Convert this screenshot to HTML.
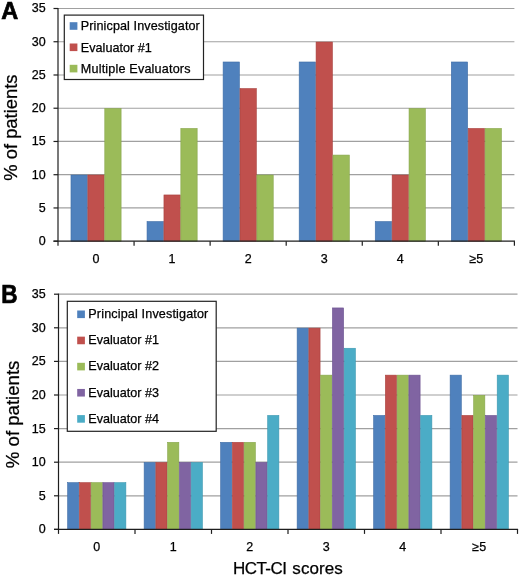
<!DOCTYPE html>
<html><head><meta charset="utf-8">
<style>
html,body{margin:0;padding:0;background:#fff;}
body{width:520px;height:577px;overflow:hidden;position:relative;}
svg{position:absolute;left:0;top:0;will-change:transform;}
text{font-family:"Liberation Sans",sans-serif;fill:#000;stroke:#000;stroke-width:0.25px;}
</style></head><body>
<svg width="520" height="577" viewBox="0 0 520 577">
<rect width="520" height="577" fill="#fff"/>
<text transform="translate(1.3,18.7) scale(1,1.03)" font-size="23.5" font-weight="bold" style="stroke-width:0.7px">A</text>
<text transform="translate(1.3,303.3) scale(0.94,1.04)" font-size="24" font-weight="bold" style="stroke-width:0.7px">B</text>
<text transform="translate(16.6,127.6) rotate(-90)" text-anchor="middle" font-size="18.35">% of patients</text>
<text transform="translate(18.7,414.4) rotate(-90)" text-anchor="middle" font-size="18.6">% of patients</text>
<text x="232.9" y="574.4" font-size="17" textLength="54">HCT-CI</text><text x="292.3" y="574.4" font-size="17" textLength="50.5">scores</text>
<line x1="58.00" y1="207.96" x2="514.40" y2="207.96" stroke="#a0a0a0" stroke-width="1.2"/>
<line x1="58.00" y1="174.71" x2="514.40" y2="174.71" stroke="#a0a0a0" stroke-width="1.2"/>
<line x1="58.00" y1="141.47" x2="514.40" y2="141.47" stroke="#a0a0a0" stroke-width="1.2"/>
<line x1="58.00" y1="108.23" x2="514.40" y2="108.23" stroke="#a0a0a0" stroke-width="1.2"/>
<line x1="58.00" y1="74.99" x2="514.40" y2="74.99" stroke="#a0a0a0" stroke-width="1.2"/>
<line x1="58.00" y1="41.74" x2="514.40" y2="41.74" stroke="#a0a0a0" stroke-width="1.2"/>
<line x1="58.00" y1="8.50" x2="514.40" y2="8.50" stroke="#a0a0a0" stroke-width="1.2"/>
<rect x="70.98" y="175.01" width="16.30" height="66.19" fill="#4F81BD" stroke="#3F6DA6" stroke-width="0.6"/>
<rect x="87.88" y="175.01" width="16.30" height="66.19" fill="#C0504D" stroke="#A8403D" stroke-width="0.6"/>
<rect x="104.79" y="108.53" width="16.30" height="132.67" fill="#9BBB59" stroke="#86A54A" stroke-width="0.6"/>
<rect x="147.04" y="221.55" width="16.30" height="19.65" fill="#4F81BD" stroke="#3F6DA6" stroke-width="0.6"/>
<rect x="163.95" y="194.96" width="16.30" height="46.24" fill="#C0504D" stroke="#A8403D" stroke-width="0.6"/>
<rect x="180.85" y="128.47" width="16.30" height="112.73" fill="#9BBB59" stroke="#86A54A" stroke-width="0.6"/>
<rect x="223.11" y="61.99" width="16.30" height="179.21" fill="#4F81BD" stroke="#3F6DA6" stroke-width="0.6"/>
<rect x="240.01" y="88.58" width="16.30" height="152.62" fill="#C0504D" stroke="#A8403D" stroke-width="0.6"/>
<rect x="256.92" y="175.01" width="16.30" height="66.19" fill="#9BBB59" stroke="#86A54A" stroke-width="0.6"/>
<rect x="299.18" y="61.99" width="16.30" height="179.21" fill="#4F81BD" stroke="#3F6DA6" stroke-width="0.6"/>
<rect x="316.08" y="42.04" width="16.30" height="199.16" fill="#C0504D" stroke="#A8403D" stroke-width="0.6"/>
<rect x="332.99" y="155.07" width="16.30" height="86.13" fill="#9BBB59" stroke="#86A54A" stroke-width="0.6"/>
<rect x="375.24" y="221.55" width="16.30" height="19.65" fill="#4F81BD" stroke="#3F6DA6" stroke-width="0.6"/>
<rect x="392.15" y="175.01" width="16.30" height="66.19" fill="#C0504D" stroke="#A8403D" stroke-width="0.6"/>
<rect x="409.05" y="108.53" width="16.30" height="132.67" fill="#9BBB59" stroke="#86A54A" stroke-width="0.6"/>
<rect x="451.31" y="61.99" width="16.30" height="179.21" fill="#4F81BD" stroke="#3F6DA6" stroke-width="0.6"/>
<rect x="468.21" y="128.47" width="16.30" height="112.73" fill="#C0504D" stroke="#A8403D" stroke-width="0.6"/>
<rect x="485.12" y="128.47" width="16.30" height="112.73" fill="#9BBB59" stroke="#86A54A" stroke-width="0.6"/>
<line x1="53.50" y1="241.20" x2="58.00" y2="241.20" stroke="#1e1e1e" stroke-width="1.2"/>
<text x="45.6" y="245.17" text-anchor="end" font-size="12.5">0</text>
<line x1="53.50" y1="207.96" x2="58.00" y2="207.96" stroke="#1e1e1e" stroke-width="1.2"/>
<text x="45.6" y="211.93" text-anchor="end" font-size="12.5">5</text>
<line x1="53.50" y1="174.71" x2="58.00" y2="174.71" stroke="#1e1e1e" stroke-width="1.2"/>
<text x="45.6" y="178.69" text-anchor="end" font-size="12.5">10</text>
<line x1="53.50" y1="141.47" x2="58.00" y2="141.47" stroke="#1e1e1e" stroke-width="1.2"/>
<text x="45.6" y="145.45" text-anchor="end" font-size="12.5">15</text>
<line x1="53.50" y1="108.23" x2="58.00" y2="108.23" stroke="#1e1e1e" stroke-width="1.2"/>
<text x="45.6" y="112.20" text-anchor="end" font-size="12.5">20</text>
<line x1="53.50" y1="74.99" x2="58.00" y2="74.99" stroke="#1e1e1e" stroke-width="1.2"/>
<text x="45.6" y="78.96" text-anchor="end" font-size="12.5">25</text>
<line x1="53.50" y1="41.74" x2="58.00" y2="41.74" stroke="#1e1e1e" stroke-width="1.2"/>
<text x="45.6" y="45.72" text-anchor="end" font-size="12.5">30</text>
<line x1="53.50" y1="8.50" x2="58.00" y2="8.50" stroke="#1e1e1e" stroke-width="1.2"/>
<text x="45.6" y="12.47" text-anchor="end" font-size="12.5">35</text>
<line x1="58.00" y1="7.90" x2="58.00" y2="245.70" stroke="#1e1e1e" stroke-width="1.2"/>
<line x1="53.50" y1="241.20" x2="515.00" y2="241.20" stroke="#1e1e1e" stroke-width="1.2"/>
<line x1="134.07" y1="241.20" x2="134.07" y2="245.70" stroke="#1e1e1e" stroke-width="1.2"/>
<line x1="210.13" y1="241.20" x2="210.13" y2="245.70" stroke="#1e1e1e" stroke-width="1.2"/>
<line x1="286.20" y1="241.20" x2="286.20" y2="245.70" stroke="#1e1e1e" stroke-width="1.2"/>
<line x1="362.27" y1="241.20" x2="362.27" y2="245.70" stroke="#1e1e1e" stroke-width="1.2"/>
<line x1="438.33" y1="241.20" x2="438.33" y2="245.70" stroke="#1e1e1e" stroke-width="1.2"/>
<line x1="514.40" y1="241.20" x2="514.40" y2="245.70" stroke="#1e1e1e" stroke-width="1.2"/>
<text x="96.03" y="263.20" text-anchor="middle" font-size="12.5">0</text>
<text x="172.10" y="263.20" text-anchor="middle" font-size="12.5">1</text>
<text x="248.17" y="263.20" text-anchor="middle" font-size="12.5">2</text>
<text x="324.23" y="263.20" text-anchor="middle" font-size="12.5">3</text>
<text x="400.30" y="263.20" text-anchor="middle" font-size="12.5">4</text>
<text x="476.37" y="263.20" text-anchor="middle" font-size="12.5">≥5</text>
<rect x="64.30" y="15.10" width="139.20" height="64.40" fill="#fff" stroke="#222" stroke-width="1.2"/>
<rect x="69.70" y="22.20" width="7.7" height="7.6" fill="#4F81BD"/>
<text x="80.80" y="30.20" font-size="12.6" textLength="119">Prinicpal Investigator</text>
<rect x="69.70" y="43.50" width="7.7" height="7.6" fill="#C0504D"/>
<text x="80.80" y="51.50" font-size="12.6" textLength="71">Evaluator #1</text>
<rect x="69.70" y="64.80" width="7.7" height="7.6" fill="#9BBB59"/>
<text x="80.80" y="72.80" font-size="12.6" textLength="109.7">Multiple Evaluators</text>
<line x1="58.50" y1="495.80" x2="517.50" y2="495.80" stroke="#a0a0a0" stroke-width="1.2"/>
<line x1="58.50" y1="462.20" x2="517.50" y2="462.20" stroke="#a0a0a0" stroke-width="1.2"/>
<line x1="58.50" y1="428.60" x2="517.50" y2="428.60" stroke="#a0a0a0" stroke-width="1.2"/>
<line x1="58.50" y1="395.00" x2="517.50" y2="395.00" stroke="#a0a0a0" stroke-width="1.2"/>
<line x1="58.50" y1="361.40" x2="517.50" y2="361.40" stroke="#a0a0a0" stroke-width="1.2"/>
<line x1="58.50" y1="327.80" x2="517.50" y2="327.80" stroke="#a0a0a0" stroke-width="1.2"/>
<line x1="58.50" y1="294.20" x2="517.50" y2="294.20" stroke="#a0a0a0" stroke-width="1.2"/>
<rect x="67.63" y="482.66" width="11.17" height="46.74" fill="#4F81BD" stroke="#3F6DA6" stroke-width="0.6"/>
<rect x="79.40" y="482.66" width="11.17" height="46.74" fill="#C0504D" stroke="#A8403D" stroke-width="0.6"/>
<rect x="91.17" y="482.66" width="11.17" height="46.74" fill="#9BBB59" stroke="#86A54A" stroke-width="0.6"/>
<rect x="102.93" y="482.66" width="11.17" height="46.74" fill="#8064A2" stroke="#6B5190" stroke-width="0.6"/>
<rect x="114.70" y="482.66" width="11.17" height="46.74" fill="#4BACC6" stroke="#3B97B0" stroke-width="0.6"/>
<rect x="144.13" y="462.50" width="11.17" height="66.90" fill="#4F81BD" stroke="#3F6DA6" stroke-width="0.6"/>
<rect x="155.90" y="462.50" width="11.17" height="66.90" fill="#C0504D" stroke="#A8403D" stroke-width="0.6"/>
<rect x="167.67" y="442.34" width="11.17" height="87.06" fill="#9BBB59" stroke="#86A54A" stroke-width="0.6"/>
<rect x="179.43" y="462.50" width="11.17" height="66.90" fill="#8064A2" stroke="#6B5190" stroke-width="0.6"/>
<rect x="191.20" y="462.50" width="11.17" height="66.90" fill="#4BACC6" stroke="#3B97B0" stroke-width="0.6"/>
<rect x="220.63" y="442.34" width="11.17" height="87.06" fill="#4F81BD" stroke="#3F6DA6" stroke-width="0.6"/>
<rect x="232.40" y="442.34" width="11.17" height="87.06" fill="#C0504D" stroke="#A8403D" stroke-width="0.6"/>
<rect x="244.17" y="442.34" width="11.17" height="87.06" fill="#9BBB59" stroke="#86A54A" stroke-width="0.6"/>
<rect x="255.93" y="462.50" width="11.17" height="66.90" fill="#8064A2" stroke="#6B5190" stroke-width="0.6"/>
<rect x="267.70" y="415.46" width="11.17" height="113.94" fill="#4BACC6" stroke="#3B97B0" stroke-width="0.6"/>
<rect x="297.13" y="328.10" width="11.17" height="201.30" fill="#4F81BD" stroke="#3F6DA6" stroke-width="0.6"/>
<rect x="308.90" y="328.10" width="11.17" height="201.30" fill="#C0504D" stroke="#A8403D" stroke-width="0.6"/>
<rect x="320.67" y="375.14" width="11.17" height="154.26" fill="#9BBB59" stroke="#86A54A" stroke-width="0.6"/>
<rect x="332.43" y="307.94" width="11.17" height="221.46" fill="#8064A2" stroke="#6B5190" stroke-width="0.6"/>
<rect x="344.20" y="348.26" width="11.17" height="181.14" fill="#4BACC6" stroke="#3B97B0" stroke-width="0.6"/>
<rect x="373.63" y="415.46" width="11.17" height="113.94" fill="#4F81BD" stroke="#3F6DA6" stroke-width="0.6"/>
<rect x="385.40" y="375.14" width="11.17" height="154.26" fill="#C0504D" stroke="#A8403D" stroke-width="0.6"/>
<rect x="397.17" y="375.14" width="11.17" height="154.26" fill="#9BBB59" stroke="#86A54A" stroke-width="0.6"/>
<rect x="408.93" y="375.14" width="11.17" height="154.26" fill="#8064A2" stroke="#6B5190" stroke-width="0.6"/>
<rect x="420.70" y="415.46" width="11.17" height="113.94" fill="#4BACC6" stroke="#3B97B0" stroke-width="0.6"/>
<rect x="450.13" y="375.14" width="11.17" height="154.26" fill="#4F81BD" stroke="#3F6DA6" stroke-width="0.6"/>
<rect x="461.90" y="415.46" width="11.17" height="113.94" fill="#C0504D" stroke="#A8403D" stroke-width="0.6"/>
<rect x="473.67" y="395.30" width="11.17" height="134.10" fill="#9BBB59" stroke="#86A54A" stroke-width="0.6"/>
<rect x="485.43" y="415.46" width="11.17" height="113.94" fill="#8064A2" stroke="#6B5190" stroke-width="0.6"/>
<rect x="497.20" y="375.14" width="11.17" height="154.26" fill="#4BACC6" stroke="#3B97B0" stroke-width="0.6"/>
<line x1="54.00" y1="529.40" x2="58.50" y2="529.40" stroke="#1e1e1e" stroke-width="1.2"/>
<text x="45.6" y="533.38" text-anchor="end" font-size="12.5">0</text>
<line x1="54.00" y1="495.80" x2="58.50" y2="495.80" stroke="#1e1e1e" stroke-width="1.2"/>
<text x="45.6" y="499.77" text-anchor="end" font-size="12.5">5</text>
<line x1="54.00" y1="462.20" x2="58.50" y2="462.20" stroke="#1e1e1e" stroke-width="1.2"/>
<text x="45.6" y="466.18" text-anchor="end" font-size="12.5">10</text>
<line x1="54.00" y1="428.60" x2="58.50" y2="428.60" stroke="#1e1e1e" stroke-width="1.2"/>
<text x="45.6" y="432.57" text-anchor="end" font-size="12.5">15</text>
<line x1="54.00" y1="395.00" x2="58.50" y2="395.00" stroke="#1e1e1e" stroke-width="1.2"/>
<text x="45.6" y="398.98" text-anchor="end" font-size="12.5">20</text>
<line x1="54.00" y1="361.40" x2="58.50" y2="361.40" stroke="#1e1e1e" stroke-width="1.2"/>
<text x="45.6" y="365.38" text-anchor="end" font-size="12.5">25</text>
<line x1="54.00" y1="327.80" x2="58.50" y2="327.80" stroke="#1e1e1e" stroke-width="1.2"/>
<text x="45.6" y="331.77" text-anchor="end" font-size="12.5">30</text>
<line x1="54.00" y1="294.20" x2="58.50" y2="294.20" stroke="#1e1e1e" stroke-width="1.2"/>
<text x="45.6" y="298.18" text-anchor="end" font-size="12.5">35</text>
<line x1="58.50" y1="293.60" x2="58.50" y2="533.90" stroke="#1e1e1e" stroke-width="1.2"/>
<line x1="54.00" y1="529.40" x2="518.10" y2="529.40" stroke="#1e1e1e" stroke-width="1.2"/>
<line x1="135.00" y1="529.40" x2="135.00" y2="533.90" stroke="#1e1e1e" stroke-width="1.2"/>
<line x1="211.50" y1="529.40" x2="211.50" y2="533.90" stroke="#1e1e1e" stroke-width="1.2"/>
<line x1="288.00" y1="529.40" x2="288.00" y2="533.90" stroke="#1e1e1e" stroke-width="1.2"/>
<line x1="364.50" y1="529.40" x2="364.50" y2="533.90" stroke="#1e1e1e" stroke-width="1.2"/>
<line x1="441.00" y1="529.40" x2="441.00" y2="533.90" stroke="#1e1e1e" stroke-width="1.2"/>
<line x1="517.50" y1="529.40" x2="517.50" y2="533.90" stroke="#1e1e1e" stroke-width="1.2"/>
<text x="96.75" y="551.40" text-anchor="middle" font-size="12.5">0</text>
<text x="173.25" y="551.40" text-anchor="middle" font-size="12.5">1</text>
<text x="249.75" y="551.40" text-anchor="middle" font-size="12.5">2</text>
<text x="326.25" y="551.40" text-anchor="middle" font-size="12.5">3</text>
<text x="402.75" y="551.40" text-anchor="middle" font-size="12.5">4</text>
<text x="479.25" y="551.40" text-anchor="middle" font-size="12.5">≥5</text>
<rect x="67.30" y="301.30" width="148.90" height="130.00" fill="#fff" stroke="#222" stroke-width="1.2"/>
<rect x="77.20" y="310.50" width="7.7" height="7.6" fill="#4F81BD"/>
<text x="88.30" y="318.10" font-size="12.6" textLength="120">Principal Investigator</text>
<rect x="77.20" y="336.65" width="7.7" height="7.6" fill="#C0504D"/>
<text x="88.30" y="344.25" font-size="12.6" textLength="70.8">Evaluator #1</text>
<rect x="77.20" y="362.80" width="7.7" height="7.6" fill="#9BBB59"/>
<text x="88.30" y="370.40" font-size="12.6" textLength="70.8">Evaluator #2</text>
<rect x="77.20" y="388.95" width="7.7" height="7.6" fill="#8064A2"/>
<text x="88.30" y="396.55" font-size="12.6" textLength="70.8">Evaluator #3</text>
<rect x="77.20" y="415.10" width="7.7" height="7.6" fill="#4BACC6"/>
<text x="88.30" y="422.70" font-size="12.6" textLength="70.8">Evaluator #4</text>
</svg>
</body></html>
